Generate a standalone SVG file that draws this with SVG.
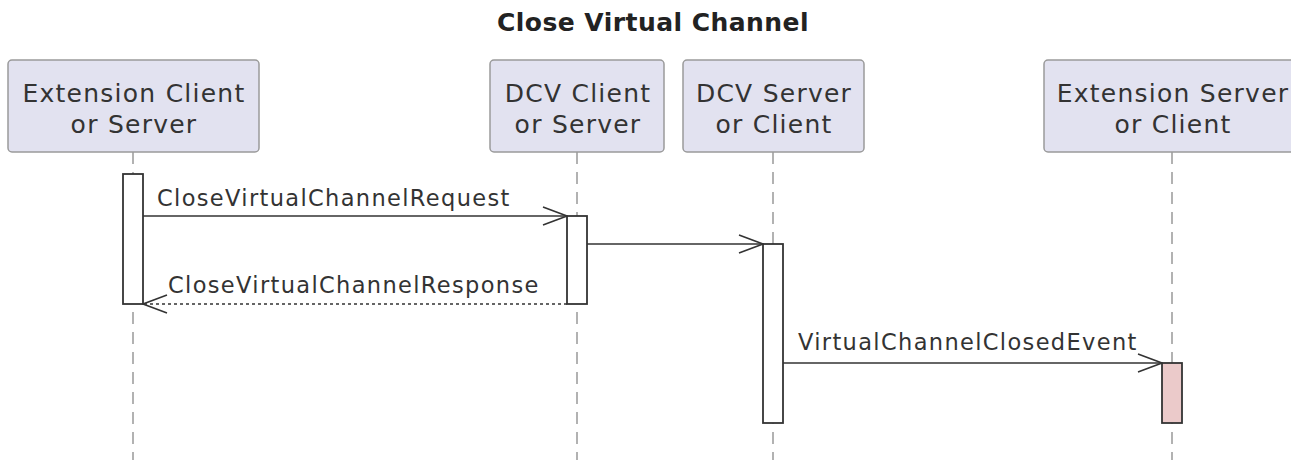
<svg xmlns="http://www.w3.org/2000/svg" width="1291" height="460" viewBox="0 0 1291 460">
<defs>
<style>
.title{font-family:"DejaVu Sans",sans-serif;font-weight:bold;font-size:25px;letter-spacing:0.45px;fill:#222}
.pbox{fill:#E2E2F0;stroke:#9a9a9a;stroke-width:1.5}
.ptext{font-family:"DejaVu Sans",sans-serif;font-size:25px;letter-spacing:1.25px;fill:#333;text-anchor:middle}
.life{stroke:#999;stroke-width:1.5;stroke-dasharray:12 8;fill:none}
.act{fill:#fff;stroke:#333;stroke-width:1.8}
.act2{fill:#EBCACA;stroke:#333;stroke-width:1.8}
.msg{stroke:#333;stroke-width:1.5;fill:none}
.dash{stroke:#333;stroke-width:1.5;fill:none;stroke-dasharray:3 3}
.mtext{font-family:"DejaVu Sans",sans-serif;font-size:22.5px;letter-spacing:1.35px;fill:#333}
</style>
<marker id="arr" viewBox="0 0 26 20" refX="25" refY="10" markerWidth="26" markerHeight="20" markerUnits="userSpaceOnUse" orient="auto">
<path d="M1,1 L25,10 L1,19" fill="none" stroke="#333" stroke-width="1.6"/>
</marker>
</defs>
<rect width="1291" height="460" fill="#fff"/>
<text class="title" x="653" y="31" text-anchor="middle">Close Virtual Channel</text>
<g id="lifelines">
<line class="life" x1="133" y1="152" x2="133" y2="460"/>
<line class="life" x1="577" y1="152" x2="577" y2="460"/>
<line class="life" x1="773" y1="152" x2="773" y2="460"/>
<line class="life" x1="1172" y1="152" x2="1172" y2="460"/>
</g>
<g id="p1">
<rect class="pbox" x="8" y="60" width="251" height="92" rx="4"/>
<text class="ptext" x="134" y="102">Extension Client</text>
<text class="ptext" x="134" y="133">or Server</text>
</g>
<g id="p2">
<rect class="pbox" x="490" y="60" width="174" height="92" rx="4"/>
<text class="ptext" x="578" y="102">DCV Client</text>
<text class="ptext" x="578" y="133">or Server</text>
</g>
<g id="p3">
<rect class="pbox" x="683" y="60" width="181" height="92" rx="4"/>
<text class="ptext" x="774" y="102">DCV Server</text>
<text class="ptext" x="774" y="133">or Client</text>
</g>
<g id="p4">
<rect class="pbox" x="1044" y="60" width="260" height="92" rx="4"/>
<text class="ptext" x="1173" y="102">Extension Server</text>
<text class="ptext" x="1173" y="133">or Client</text>
</g>
<g id="activations">
<rect class="act" x="123" y="174" width="20" height="130"/>
<rect class="act" x="567" y="216" width="20" height="88"/>
<rect class="act" x="763" y="244" width="20" height="179"/>
<rect class="act2" x="1162" y="363" width="20" height="60"/>
</g>
<g id="connectors">
<line class="msg" x1="143" y1="216" x2="567" y2="216" marker-end="url(#arr)"/>
<text class="mtext" x="157" y="206">CloseVirtualChannelRequest</text>
<line class="msg" x1="587" y1="244" x2="763" y2="244" marker-end="url(#arr)"/>
<line class="dash" x1="567" y1="304" x2="143" y2="304" marker-end="url(#arr)"/>
<text class="mtext" x="168" y="293">CloseVirtualChannelResponse</text>
<line class="msg" x1="783" y1="363" x2="1162" y2="363" marker-end="url(#arr)"/>
<text class="mtext" x="798" y="350">VirtualChannelClosedEvent</text>
</g>
</svg>
